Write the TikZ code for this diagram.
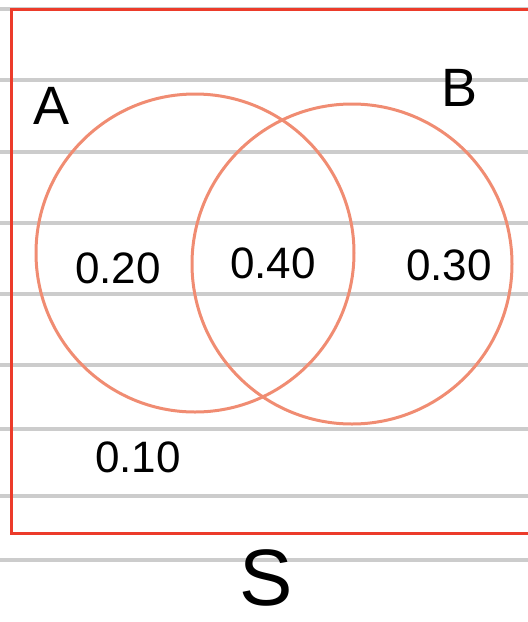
\documentclass[tikz,border=0pt]{standalone}
\usepackage{fontspec}
\setmainfont{Liberation Sans}
\definecolor{ruleline}{HTML}{CCCCCC}
\definecolor{framered}{HTML}{EC3B2A}
\definecolor{setline}{HTML}{F08C72}
\begin{document}
\begin{tikzpicture}[x=1pt,y=-1pt,
  ruling/.style={draw=ruleline,line width=4pt},
  setcircle/.style={draw=setline,line width=3pt},
  prob/.style={inner sep=0pt,font=\fontsize{44}{48}\selectfont},
  setname/.style={inner sep=0pt,font=\fontsize{54}{58}\selectfont},
  spacename/.style={inner sep=0pt,font=\fontsize{80}{84}\selectfont}]
\useasboundingbox (0,0) rectangle (528,622);
\begin{scope}
\clip (0,0) rectangle (528,622);
\foreach \yy in {9,80,152,223,294,365,429,496,560}
  \draw[ruling] (0,\yy) -- (528,\yy);
\draw[draw=framered,line width=3.8pt] (11.5,9.5) rectangle (560,533.5);
\draw[setcircle] (195,253) circle[radius=159];
\draw[setcircle] (352,264) circle[radius=160];
\end{scope}
\node[setname] (labA) at (52,106) {A};
\node[setname] (labB) at (460,88) {B};
\node[prob] (pA) at (118,268) {0.20};
\node[prob] (pAB) at (273,263) {0.40};
\node[prob] (pB) at (449,265) {0.30};
\node[prob] (pN) at (138,457) {0.10};
\node[spacename] (labS) at (266,578) {S};
\end{tikzpicture}
\end{document}
